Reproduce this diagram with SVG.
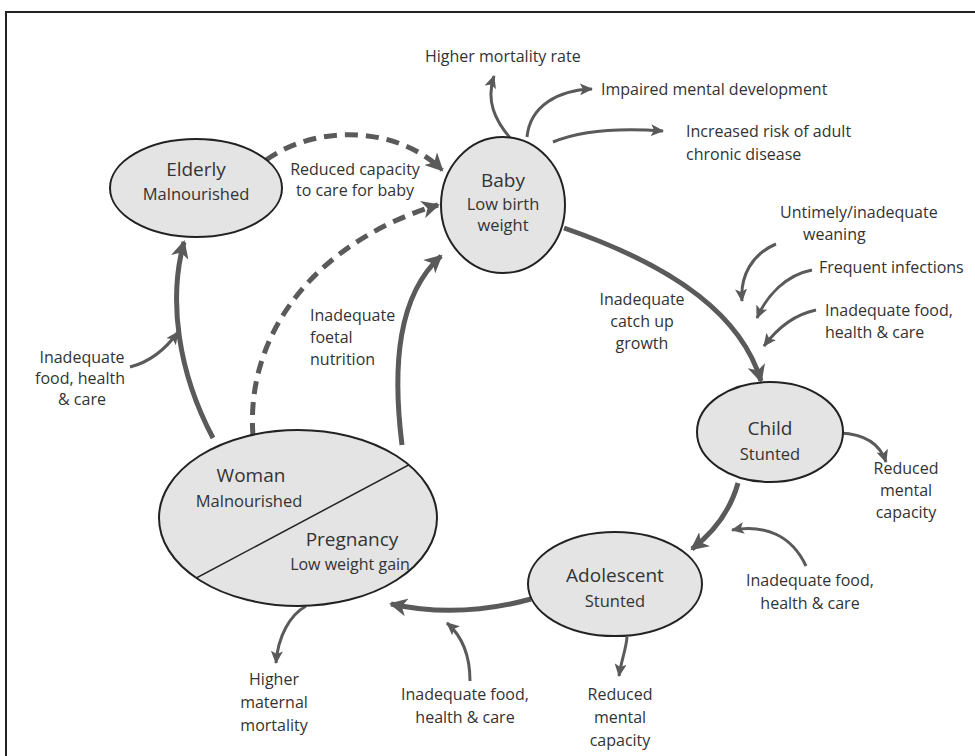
<svg xmlns="http://www.w3.org/2000/svg" width="975" height="756" viewBox="0 0 975 756">
<defs>
<style>
.node ellipse{fill:#e4e4e4;stroke:#222;stroke-width:2}
.t{font-family:"Open Sans","DejaVu Sans",sans-serif;fill:#333;text-anchor:middle}
.big{font-size:19px}
.mid{font-size:16.5px}
.sm{font-size:16px}
.lbl{font-family:"Open Sans","DejaVu Sans",sans-serif;fill:#333;font-size:16px}
.thick{fill:none;stroke:#5a5a5a;stroke-width:5;marker-end:url(#ah)}
.dash{fill:none;stroke:#5a5a5a;stroke-width:5;stroke-dasharray:13 8;marker-end:url(#ah)}
.thin{fill:none;stroke:#5a5a5a;stroke-width:3;marker-end:url(#as)}
</style>
<marker id="ah" markerUnits="userSpaceOnUse" markerWidth="20" markerHeight="18" refX="16" refY="9" orient="auto">
<path d="M0,0 L18,9 L0,18 L5,9 Z" fill="#5a5a5a"/>
</marker>
<marker id="as" markerUnits="userSpaceOnUse" markerWidth="14" markerHeight="12" refX="12" refY="6" orient="auto">
<path d="M0,0 L13,6 L0,12 L3,6 Z" fill="#5a5a5a"/>
</marker>
<clipPath id="wclip">
<ellipse cx="298" cy="518" rx="139" ry="88"/>
</clipPath>
</defs>
<rect x="0" y="0" width="975" height="756" fill="#fff"/>
<rect x="6" y="12" width="990" height="780" fill="none" stroke="#222" stroke-width="2"/>

<g id="connectors">
<path class="thick" d="M213 438 C178 372 168 300 184 242"/>
<path class="thick" d="M402 445 C392 365 398 295 441 256"/>
<path class="dash" d="M253 436 C245 330 320 240 438 205"/>
<path class="dash" d="M266 160 C320 122 400 128 442 170"/>
<path class="thick" d="M564 228 C680 268 742 318 761 381"/>
<path class="thick" d="M738 483 C730 512 714 532 692 549"/>
<path class="thick" d="M531 599 C480 613 432 613 391 604"/>
<path class="thin" d="M512 140 C494 120 486 100 494 76"/>
<path class="thin" d="M527 137 C530 106 558 90 592 89"/>
<path class="thin" d="M553 142 C582 130 622 128 663 131"/>
<path class="thin" d="M776 244 C752 254 740 276 742 301"/>
<path class="thin" d="M812 270 C786 275 767 295 757 318"/>
<path class="thin" d="M816 310 C792 315 776 330 764 346"/>
<path class="thin" d="M840 433 C866 434 880 444 886 462"/>
<path class="thin" d="M806 566 C792 536 766 524 732 530"/>
<path class="thin" d="M627 637 C626 650 621 661 619 676"/>
<path class="thin" d="M306 606 C290 615 278 636 276 663"/>
<path class="thin" d="M470 681 C470 656 462 636 447 623"/>
<path class="thin" d="M130 367 C150 362 165 350 178 332"/>
</g>

<g id="elderly" class="node">
<ellipse cx="196" cy="188" rx="86" ry="49"/>
<text class="t big" x="196" y="176">Elderly</text>
<text class="t mid" x="196" y="200">Malnourished</text>
</g>

<g id="baby" class="node">
<ellipse cx="503" cy="205" rx="62" ry="68"/>
<text class="t big" x="503" y="187">Baby</text>
<text class="t mid" x="503" y="210">Low birth</text>
<text class="t mid" x="503" y="231">weight</text>
</g>

<g id="child" class="node">
<ellipse cx="770" cy="432" rx="73" ry="50"/>
<text class="t big" x="770" y="435">Child</text>
<text class="t mid" x="770" y="460">Stunted</text>
</g>

<g id="adolescent" class="node">
<ellipse cx="615" cy="584" rx="87" ry="52"/>
<text class="t big" x="615" y="582">Adolescent</text>
<text class="t mid" x="615" y="607">Stunted</text>
</g>

<g id="woman" class="node">
<ellipse cx="298" cy="518" rx="139" ry="88"/>
<line x1="170" y1="592" x2="450" y2="443" stroke="#222" stroke-width="1.5" clip-path="url(#wclip)"/>
<text class="t big" x="251" y="482">Woman</text>
<text class="t mid" x="249" y="507">Malnourished</text>
<text class="t big" x="352" y="546">Pregnancy</text>
<text class="t sm" x="350" y="570">Low weight gain</text>
</g>

<g id="labels">
<text class="lbl" x="425" y="62">Higher mortality rate</text>
<text class="lbl" x="601" y="95">Impaired mental development</text>
<text class="lbl" x="686" y="137">Increased risk of adult</text>
<text class="lbl" x="686" y="160">chronic disease</text>
<text class="t sm" x="355" y="175">Reduced capacity</text>
<text class="t sm" x="355" y="196">to care for baby</text>
<text class="lbl" x="780" y="218">Untimely/inadequate</text>
<text class="lbl" x="803" y="240">weaning</text>
<text class="lbl" x="819" y="273">Frequent infections</text>
<text class="lbl" x="825" y="316">Inadequate food,</text>
<text class="lbl" x="825" y="338">health &amp; care</text>
<text class="t sm" x="642" y="305">Inadequate</text>
<text class="t sm" x="642" y="327">catch up</text>
<text class="t sm" x="642" y="349">growth</text>
<text class="lbl" x="310" y="321">Inadequate</text>
<text class="lbl" x="310" y="343">foetal</text>
<text class="lbl" x="310" y="365">nutrition</text>
<text class="t sm" x="82" y="363">Inadequate</text>
<text class="t sm" x="80" y="384">food, health</text>
<text class="t sm" x="82" y="405">&amp; care</text>
<text class="t sm" x="906" y="474">Reduced</text>
<text class="t sm" x="906" y="496">mental</text>
<text class="t sm" x="906" y="518">capacity</text>
<text class="t sm" x="810" y="586">Inadequate food,</text>
<text class="t sm" x="810" y="609">health &amp; care</text>
<text class="t sm" x="620" y="700">Reduced</text>
<text class="t sm" x="620" y="723">mental</text>
<text class="t sm" x="620" y="746">capacity</text>
<text class="t sm" x="465" y="700">Inadequate food,</text>
<text class="t sm" x="465" y="723">health &amp; care</text>
<text class="t sm" x="274" y="685">Higher</text>
<text class="t sm" x="274" y="708">maternal</text>
<text class="t sm" x="274" y="731">mortality</text>
</g>
</svg>
